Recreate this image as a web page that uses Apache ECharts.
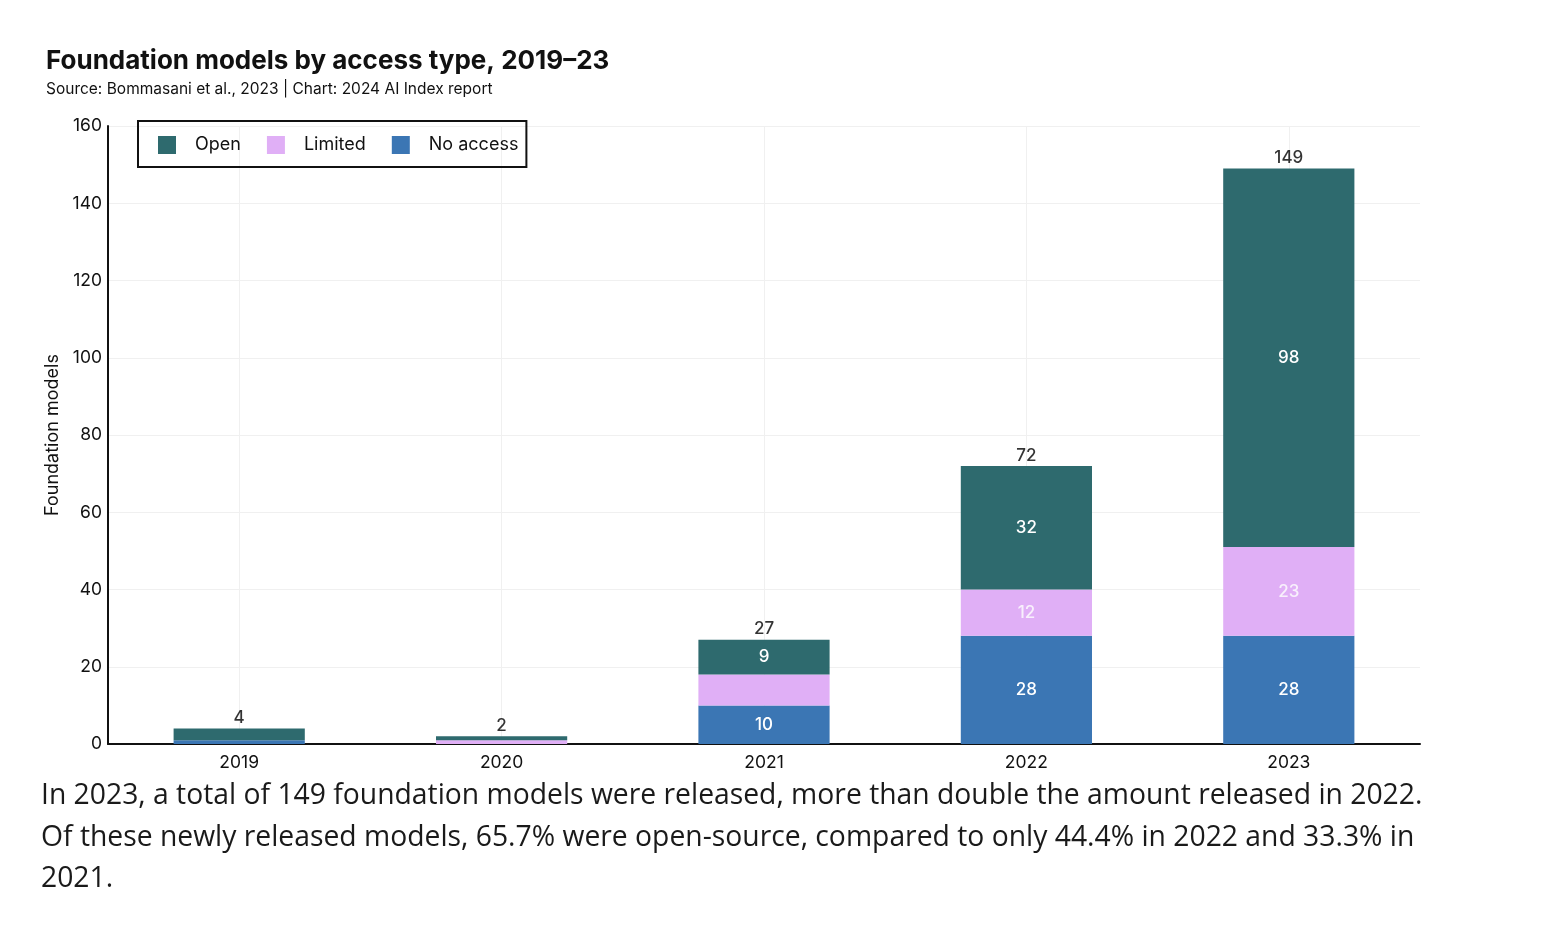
<!DOCTYPE html>
<html>
<head>
<meta charset="utf-8">
<script src="https://cdn.jsdelivr.net/npm/echarts@6/dist/echarts.min.js"></script>
<style>
html,body{margin:0;padding:0;background:#fff;}
#chart{width:1542px;height:936px;}
</style>
</head>
<body>
<div id="chart"></div>
<script>
const years = ['2019', '2020', '2021', '2022', '2023'];
const noAccess = [1, 0, 10, 28, 28];
const limited = [0, 1, 8, 12, 23];
const openModels = [3, 1, 9, 32, 98];
const totals = [4, 2, 27, 72, 149];
const yTicks = [0, 20, 40, 60, 80, 100, 120, 140, 160];
const captionLines = [
  'In 2023, a total of 149 foundation models were released, more than double the amount released in 2022.',
  'Of these newly released models, 65.7% were open-source, compared to only 44.4% in 2022 and 33.3% in',
  '2021.'
];

const FONT = 'Inter, "Noto Sans", sans-serif';
const inLabel = {
  show: true, position: 'inside', color: '#ffffff', fontSize: 17, fontWeight: 500, fontFamily: FONT,
  formatter: p => (p.value >= 9 ? String(p.value) : '')
};

const chart = echarts.init(document.getElementById('chart'));
chart.setOption({
  backgroundColor: '#ffffff',
  animation: false,
  title: {
    text: 'Foundation models by access type, 2019–23',
    subtext: 'Source: Bommasani et al., 2023 | Chart: 2024 AI Index report',
    left: 46, top: 48, itemGap: 7, padding: 0,
    textStyle: { fontFamily: FONT, fontSize: 26, fontWeight: 'bold', color: '#111' },
    subtextStyle: { fontFamily: FONT, fontSize: 15.5, color: '#111' }
  },
  legend: {
    left: 138, top: 121,
    padding: [15, 8, 13, 20],
    borderColor: '#111', borderWidth: 2,
    itemWidth: 18, itemHeight: 18, itemGap: 26,
    icon: 'rect',
    textStyle: { fontFamily: FONT, fontSize: 18, color: '#111', padding: [0, 0, 0, 14] },
    data: ['Open', 'Limited', 'No access']
  },
  grid: { left: 108, right: 122, top: 126, bottom: 192, containLabel: false },
  xAxis: {
    type: 'category',
    data: years,
    axisLine: { lineStyle: { color: '#111', width: 2 } },
    axisTick: { show: false },
    axisLabel: { fontFamily: FONT, fontSize: 17.5, color: '#111', margin: 10 },
    splitLine: { show: true, alignWithLabel: true, lineStyle: { color: '#f0f0f0', width: 1 } }
  },
  yAxis: {
    type: 'value',
    min: 0, max: 160, interval: 20,
    name: 'Foundation models',
    nameLocation: 'middle', nameGap: 42,
    nameTextStyle: { fontFamily: FONT, fontSize: 18, color: '#111' },
    axisLine: { show: true, lineStyle: { color: '#111', width: 2 } },
    axisTick: { show: false },
    axisLabel: { fontFamily: FONT, fontSize: 17.5, color: '#111', margin: 6,
      formatter: v => (yTicks.indexOf(v) >= 0 ? String(v) : '') },
    splitLine: { show: true, lineStyle: { color: '#f0f0f0', width: 1 } }
  },
  series: [
    { name: 'No access', type: 'bar', stack: 'a', barWidth: '50%', data: noAccess,
      itemStyle: { color: '#3b76b4' }, label: inLabel },
    { name: 'Limited', type: 'bar', stack: 'a', data: limited,
      itemStyle: { color: '#e0aff6' }, label: Object.assign({}, inLabel, { color: '#f8f0fc' }) },
    { name: 'Open', type: 'bar', stack: 'a', data: openModels,
      itemStyle: { color: '#2e6a6e' }, label: inLabel },
    { name: 'Total', type: 'scatter', data: totals, symbolSize: 0, silent: true,
      label: { show: true, position: 'top', distance: 2, color: '#000', fontSize: 17, fontWeight: 500, fontFamily: FONT,
        formatter: p => String(p.value) } }
  ],
  graphic: captionLines.map((t, i) => ({
    type: 'text', left: 41, top: 782 + i * 41.5,
    style: { text: t, fontFamily: '"Open Sans", "Noto Sans", sans-serif', fontSize: 28.3, fill: '#1a1a1a' }
  }))
});
</script>
</body>
</html>
